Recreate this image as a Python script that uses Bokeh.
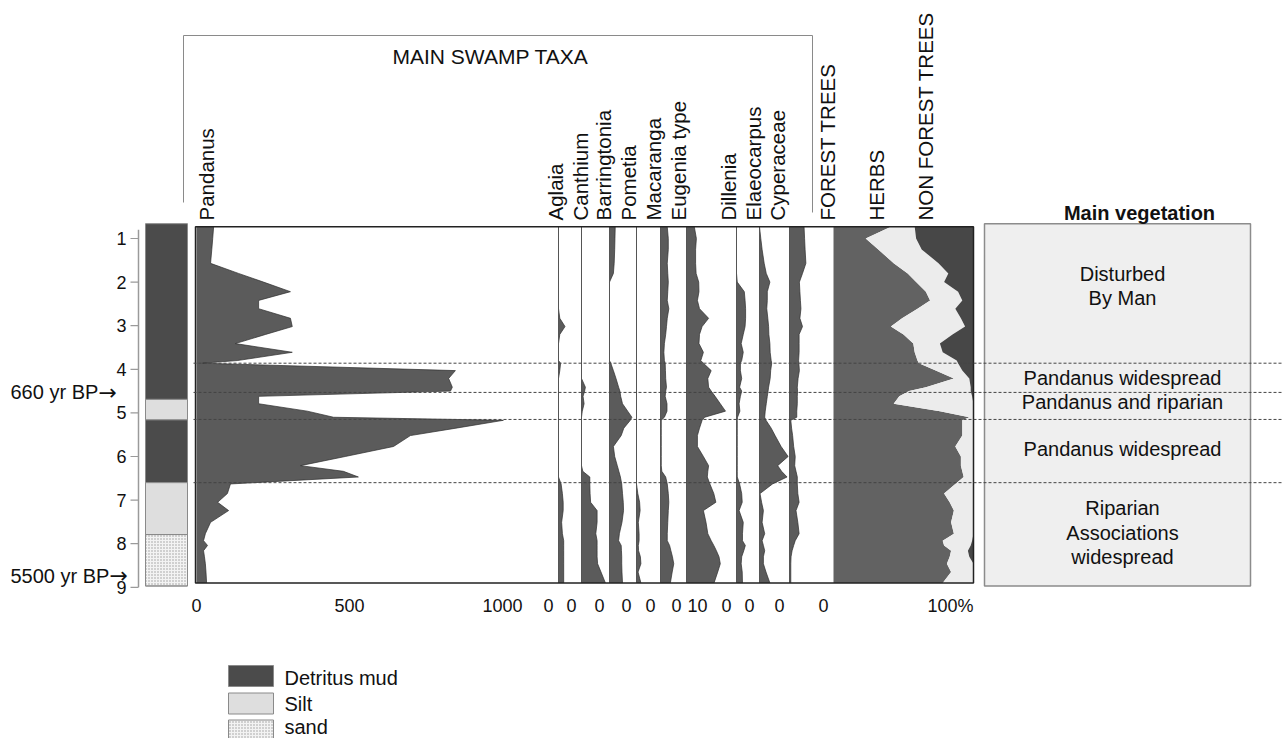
import numpy as np
from bokeh.plotting import figure
from bokeh.models import Range1d
from bokeh.core.properties import value
from bokeh.embed import file_html
from bokeh.resources import INLINE

# ---------------- data ----------------
DEPTH = [0.73, 1.00, 1.25, 1.57, 1.80, 2.00, 2.22, 2.42, 2.61, 2.83,
         3.02, 3.20, 3.41, 3.61, 3.80, 3.86, 4.03, 4.21, 4.41, 4.50,
         4.62, 4.79, 4.96, 5.10, 5.17, 5.35, 5.52, 5.77, 6.00, 6.21,
         6.34, 6.47, 6.63, 6.85, 7.05, 7.24, 7.51, 7.77, 7.93, 8.04,
         8.16, 8.30, 8.46, 8.65, 8.90]

PANDANUS = [56, 53, 50, 46, 137, 219, 307, 203, 203, 307,
            313, 226, 127, 313, 133, 20, 846, 824, 836, 830,
            203, 203, 362, 448, 1003, 848, 699, 644, 486, 340,
            480, 529, 111, 101, 69, 105, 46, 29, 23, 36,
            23, 26, 29, 31, 33]

AGLAIA = [0, 0, 0, 0, 0, 0, 0, 0, 0, 0.5,
          2.5, 0.5, 0, 0, 0, 0.8, 0.5, 0, 0, 0,
          0, 0, 0, 0, 0, 0, 0, 0, 0, 0,
          0, 0, 1.0, 1.5, 1.8, 1.8, 1.2, 1.5, 2.0, 2.0,
          2.0, 2.0, 2.0, 2.0, 2.0]
CANTHIUM = [0, 0, 0, 0, 0, 0, 0, 0, 0, 0,
            0, 0, 0, 0, 0, 0, 0, 0, 1.5, 1.2,
            0.6, 1.0, 0.3, 0, 0, 0, 0, 0, 0, 0,
            0.5, 3.2, 3.2, 3.3, 3.5, 6.0, 6.0, 5.5, 6.0, 6.0,
            6.0, 6.0, 6.2, 7.5, 9.2]
BARRINGTONIA = [2.2, 2.1, 2.0, 1.8, 1.5, 0, 0, 0, 0, 0,
                0, 0, 0, 0, 0, 0.5, 1.5, 2.5, 3.5, 4.0,
                4.3, 5.0, 7.0, 8.6, 8.0, 5.5, 4.5, 1.5, 2.0, 3.0,
                3.6, 4.2, 4.7, 5.0, 5.3, 5.4, 4.8, 3.8, 3.5, 4.5,
                4.6, 4.7, 4.7, 4.8, 5.0]
POMETIA = [0, 0, 0, 0, 0, 0, 0, 0, 0, 0,
           0, 0, 0, 0, 0, 0, 0, 0, 0, 0,
           0, 0, 0, 0, 0, 0, 0, 0, 0, 0,
           0, 0, 0, 0.5, 1.2, 1.4, 0.7, 1.0, 1.0, 0.7,
           0.8, 1.5, 1.7, 0.6, 1.7]
MACARANGA = [2.6, 3.0, 3.0, 2.6, 2.8, 3.0, 2.8, 2.6, 3.2, 2.6,
             2.3, 2.0, 1.5, 1.3, 1.5, 1.8, 1.9, 2.0, 2.3, 2.0,
             1.8, 2.5, 2.5, 1.5, 0.3, 0.3, 0.3, 0.3, 0.3, 0.3,
             0.5, 2.0, 2.6, 3.0, 3.2, 3.0, 2.8, 2.6, 2.6, 3.5,
             4.0, 4.6, 5.1, 4.5, 3.8]
EUGENIA = [3.0, 3.8, 3.5, 3.5, 3.7, 4.7, 4.8, 4.2, 5.0, 8.5,
           6.0, 5.0, 4.8, 6.5, 5.5, 6.5, 9.5, 8.2, 8.5, 9.5,
           11.0, 13.0, 15.0, 7.0, 6.0, 5.0, 4.2, 4.2, 6.5, 8.5,
           8.2, 8.0, 9.0, 10.5, 11.3, 6.5, 7.5, 8.2, 9.5, 10.5,
           11.5, 12.5, 13.0, 12.0, 10.6]
DILLENIA = [0, 0, 0, 0, 0, 0.3, 3.0, 3.3, 3.5, 3.5,
            3.3, 2.6, 1.8, 2.6, 2.0, 1.5, 1.5, 2.0, 1.2, 2.0,
            1.5, 1.0, 1.3, 0.4, 0.3, 0.3, 0.3, 0.3, 0.3, 0.3,
            0.3, 0.3, 1.2, 2.0, 2.2, 1.0, 2.6, 2.3, 2.3, 3.4,
            2.8, 2.0, 1.8, 2.2, 2.3]
ELAEOCARPUS = [0, 0.5, 1.0, 1.8, 2.6, 4.0, 3.0, 3.0, 2.8, 3.2,
               3.5, 3.6, 4.0, 4.1, 4.5, 4.7, 4.3, 4.1, 3.5, 3.3,
               3.0, 2.6, 2.2, 2.0, 2.5, 4.5, 6.0, 8.3, 11.0, 7.0,
               8.5, 10.6, 5.0, 0.2, 0.8, 1.5, 1.0, 2.0, 1.0, 1.5,
               2.0, 1.5, 1.5, 2.5, 4.0]
CYPERACEAE = [5.6, 5.8, 6.0, 6.3, 5.0, 3.8, 4.0, 4.2, 4.4, 4.0,
              5.0, 3.7, 3.7, 3.7, 3.5, 3.6, 3.8, 3.3, 3.0, 3.1,
              3.0, 3.0, 2.8, 2.8, 0.5, 0.8, 1.2, 1.6, 2.2, 2.0,
              2.5, 3.0, 3.0, 3.2, 3.7, 2.5, 3.2, 3.7, 2.2, 1.6,
              1.0, 0.6, 0.5, 0.5, 0.5]

TAXA = ["Aglaia", "Canthium", "Barringtonia", "Pometia", "Macaranga",
        "Eugenia type", "Dillenia", "Elaeocarpus", "Cyperaceae"]
TAXA_VALUES = [AGLAIA, CANTHIUM, BARRINGTONIA, POMETIA, MACARANGA,
               EUGENIA, DILLENIA, ELAEOCARPUS, CYPERACEAE]

FOREST_TREES = [41, 23, 32, 43, 53, 59, 66, 69, 60, 49,
                41, 50, 57, 58, 60, 61, 73, 86, 66, 54,
                47, 43, 76, 97, 92, 92, 92, 87, 91, 91,
                92, 93, 87, 79, 83, 86, 84, 86, 78, 79,
                84, 83, 81, 84, 78]
HERBS = [17, 36, 31, 32, 29, 20, 23, 23, 27, 42,
         53, 35, 19, 20, 28, 28, 19, 11, 32, 44,
         52, 57, 24, 3, 8, 8, 8, 13, 9, 9,
         8, 7, 13, 21, 17, 14, 16, 14, 21, 19,
         12, 14, 19, 16, 22]
NON_FOREST_TREES = [42, 41, 37, 25, 18, 21, 11, 8, 13, 9,
                    6, 15, 24, 22, 12, 11, 8, 3, 2, 2,
                    1, 0, 0, 0, 0, 0, 0, 0, 0, 0,
                    0, 0, 0, 0, 0, 0, 0, 0, 1, 2,
                    4, 3, 0, 0, 0]
GROUPS = ["FOREST TREES", "HERBS", "NON FOREST TREES"]

LITH_TOP = [0.66, 4.69, 5.16, 6.60, 7.79]
LITH_BOTTOM = [4.69, 5.16, 6.60, 7.79, 8.97]
LITH_TYPE = ["Detritus mud", "Silt", "Detritus mud", "Silt", "sand"]
LITH_NAMES = ["Detritus mud", "Silt", "sand"]

ZONE_BOUNDARIES = [3.86, 4.53, 5.15, 6.60]
ZONE_LABELS = [["Disturbed", "By Man"], ["Pandanus widespread"],
               ["Pandanus and riparian"], ["Pandanus widespread"],
               ["Riparian", "Associations", "widespread"]]

DATE_LABELS = ["660 yr BP", "5500 yr BP"]
DATE_DEPTHS = [4.53, 8.73]
DEPTH_TICKS = [1, 2, 3, 4, 5, 6, 7, 8, 9]
PANDANUS_TICKS = [0, 500, 1000]

# ---------------- layout / style ----------------
W, H = 1285, 738
Y1_PX, PX_PER_UNIT = 238.0, 43.6


def yd(py):
    """screen pixel row -> depth coordinate (layout helper)"""
    return 1.0 + (py - Y1_PX) / PX_PER_UNIT


FONT = value("Liberation Sans")
FILL = "#5b5b5b"
EDGE = "#2e2e2e"
LITH_COLORS = {"Detritus mud": "#4b4b4b", "Silt": "#dedede", "sand": "#f3f3f3"}
GROUP_COLORS = ["#626262", "#ececec", "#474747"]

PAN_X0, PAN_SCALE = 196.0, 0.306
COL_X0 = [558, 581, 609, 636, 660, 686, 736, 759, 789]
PCT_SCALE = 2.6
CUM_X0, CUM_SCALE = 833.0, 1.4
BOX_L, BOX_R = 195, 973
LABEL_X = [206, 555, 580, 603, 628, 653, 678, 728, 753, 777, 827, 876, 925]
ARROW_X = [98, 109]

p = figure(width=W, height=H, x_range=Range1d(0, W),
           y_range=Range1d(yd(H), yd(0)), min_border=0,
           toolbar_location=None, output_backend="svg",
           x_axis_location=None, y_axis_location=None,
           outline_line_color=None, background_fill_color="white",
           border_fill_color="white")
p.grid.visible = False

d = np.array(DEPTH)
top, bot = DEPTH[0], DEPTH[-1]


def txt(xs, ys, ts, size, align="left", baseline="middle", angle=0.0,
        style="normal", color="#111111", x_offset=0, font=FONT):
    p.text(x=xs, y=ys, text=ts, text_font=font, text_font_size=size,
           text_align=align, text_baseline=baseline, angle=angle,
           text_font_style=style, text_color=color, x_offset=x_offset)


# Pandanus
px = PAN_X0 + PAN_SCALE * np.array(PANDANUS, dtype=float)
p.harea(x1=np.full(len(d), PAN_X0), x2=px, y=d, fill_color=FILL)
p.line(px, d, line_color=EDGE, line_width=0.7)

# small taxa
for vals, x0 in zip(TAXA_VALUES, COL_X0):
    xv = x0 + PCT_SCALE * np.array(vals, dtype=float)
    p.harea(x1=np.full(len(d), float(x0)), x2=xv, y=d, fill_color=FILL)
    p.line(xv, d, line_color=EDGE, line_width=0.7)
    p.segment(x0=[x0], y0=[top], x1=[x0], y1=[bot], line_color="#555555",
              line_width=1)

# cumulative groups
c0 = np.zeros(len(d))
for vals, col in zip([FOREST_TREES, HERBS, NON_FOREST_TREES], GROUP_COLORS):
    c1 = c0 + np.array(vals, dtype=float)
    p.harea(x1=CUM_X0 + CUM_SCALE * c0, x2=CUM_X0 + CUM_SCALE * c1, y=d,
            fill_color=col)
    c0 = c1

# main box
p.quad(left=[BOX_L], right=[BOX_R], top=[top], bottom=[bot],
       fill_color=None, line_color="#222222", line_width=1.5)

# lithology column
p.quad(left=145, right=187, top=LITH_TOP, bottom=LITH_BOTTOM,
       fill_color=[LITH_COLORS[t] for t in LITH_TYPE],
       line_color="#8a8a8a", line_width=1)
sand = [i for i, t in enumerate(LITH_TYPE) if t == "sand"]
p.quad(left=145, right=187, top=[LITH_TOP[i] for i in sand],
       bottom=[LITH_BOTTOM[i] for i in sand], fill_color=None,
       hatch_pattern="dot", hatch_color="#9a9a9a", hatch_scale=3,
       hatch_weight=1, line_color="#8a8a8a", line_width=1)

# depth axis
p.segment(x0=[138], y0=[0.8], x1=[138], y1=[9.0], line_color="#9a9a9a",
          line_width=1.5)
p.segment(x0=[130] * len(DEPTH_TICKS), y0=DEPTH_TICKS,
          x1=[138] * len(DEPTH_TICKS), y1=DEPTH_TICKS, line_color="#9a9a9a",
          line_width=1.2)
txt([126] * len(DEPTH_TICKS), DEPTH_TICKS, [str(t) for t in DEPTH_TICKS],
    "18px", align="right")

# date markers
txt([10] * len(DATE_LABELS), DATE_DEPTHS, DATE_LABELS, "20px")
txt(ARROW_X, DATE_DEPTHS, ["\u2192"] * len(DATE_LABELS), "22px",
    font=value("DejaVu Sans"))

# right vegetation panel
p.quad(left=[984], right=[1250], top=[LITH_TOP[0]], bottom=[LITH_BOTTOM[-1]],
       fill_color="#efefef", line_color="#8c8c8c", line_width=1.5)
txt([1139], [yd(212)], ["Main vegetation"], "20px", align="center",
    style="bold")
zone_edges = [LITH_TOP[0]] + ZONE_BOUNDARIES + [LITH_BOTTOM[-1]]
shift = [-0.17, 0.0, -0.08, -0.05, -0.04]
line_h = 24.8 / PX_PER_UNIT
zx, zy, zt = [], [], []
for k, lines in enumerate(ZONE_LABELS):
    c = 0.5 * (zone_edges[k] + zone_edges[k + 1]) + shift[k]
    for i, s in enumerate(lines):
        zx.append(1122)
        zy.append(c + (i - (len(lines) - 1) / 2) * line_h)
        zt.append(s)
txt(zx, zy, zt, "20px", align="center")

# dashed zone lines
n = len(ZONE_BOUNDARIES)
p.segment(x0=[193] * n, y0=ZONE_BOUNDARIES, x1=[1282] * n, y1=ZONE_BOUNDARIES,
          line_color="#444444", line_width=1, line_dash="3 2")

# rotated column labels
txt(LABEL_X, [yd(220)] * len(LABEL_X), ["Pandanus"] + TAXA + GROUPS, "20.5px",
    align="left", angle=np.pi / 2)

# bracket for main swamp taxa
p.line(x=[183, 183, 812, 812], y=[yd(202), yd(35), yd(35), yd(212)],
       line_color="#8a8a8a", line_width=1)
txt([490], [yd(56)], ["MAIN SWAMP TAXA"], "21px", align="center")

# bottom tick labels
ty = yd(605)
txt([PAN_X0 + PAN_SCALE * v for v in PANDANUS_TICKS], [ty] * 3,
    [str(v) for v in PANDANUS_TICKS], "18px", align="center")
tick_x = list(COL_X0) + [COL_X0[TAXA.index("Eugenia type")] + PCT_SCALE * 10, CUM_X0]
tick_t = ["0"] * len(COL_X0) + ["10", "0"]
txt(tick_x, [ty] * len(tick_x), tick_t, "18px", align="right", x_offset=-5)
txt([CUM_X0 + CUM_SCALE * 100], [ty], ["100%"], "18px", align="right")

# legend
ly = [yd(665), yd(692.5), yd(719.5)]
lh = 21 / PX_PER_UNIT
for i, name in enumerate(LITH_NAMES):
    kw = {}
    if name == "sand":
        kw = dict(hatch_pattern="dot", hatch_color="#9a9a9a", hatch_scale=3,
                  hatch_weight=1)
    p.quad(left=[228], right=[273], top=[ly[i]], bottom=[ly[i] + lh],
           fill_color=LITH_COLORS[name], line_color="#8a8a8a", line_width=1,
           **kw)
txt([284] * 3, [yd(677), yd(703), yd(726)], LITH_NAMES, "20px")

open("out.html", "w").write(file_html(p, INLINE))
